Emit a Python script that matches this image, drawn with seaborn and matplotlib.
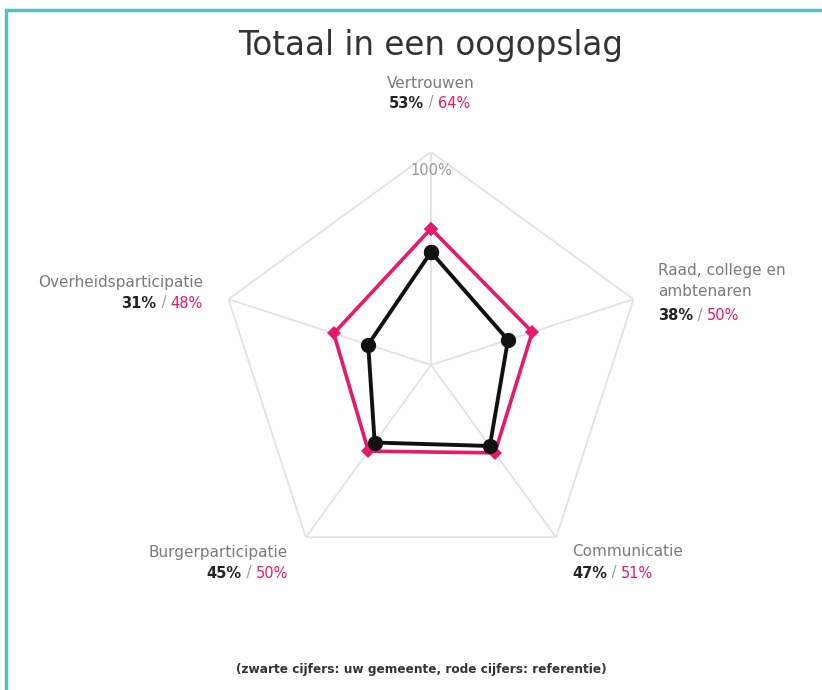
import matplotlib
matplotlib.use("Agg")
import matplotlib.pyplot as plt
import numpy as np
import seaborn as sns
from matplotlib.lines import Line2D

# data
categories = ["Vertrouwen", "Raad, college en\nambtenaren", "Communicatie",
              "Burgerparticipatie", "Overheidsparticipatie"]
gemeente = [53, 38, 47, 45, 31]
referentie = [64, 50, 51, 50, 48]

W, H = 822, 690
BLACK = "#111111"
PINK = "#e8186b"
GRID = "#e2e2e2"
LABEL = "#7a7a7a"
TEAL = "#5cbdb8"


def fx(x):
    return x / W


def fy(y):
    return 1 - y / H


sns.set_theme(style="white")
plt.rcParams["font.family"] = ["DejaVu Sans"]

fig = plt.figure(figsize=(W / 100, H / 100), dpi=100)
fig.patch.set_facecolor("white")

cx, cy, R = 431, 365, 213
ax = fig.add_axes([fx(cx - R), fy(cy + R), 2 * R / W, 2 * R / H], projection="polar")
ax.set_theta_offset(np.pi / 2)
ax.set_theta_direction(-1)
ax.grid(False)
ax.spines["polar"].set_visible(False)
ax.patch.set_alpha(0)

n = len(categories)
angles = np.linspace(0, 2 * np.pi, n, endpoint=False)
closed = np.append(angles, 2 * np.pi)

# pentagon frame and spokes
ax.plot(closed, [100] * (n + 1), color=GRID, lw=1.3, zorder=1)
for a in angles:
    ax.plot([a, a], [0, 100], color=GRID, lw=1.3, zorder=1)
ax.text(0, 91.5, "100%", ha="center", va="center", fontsize=10.5, color="#9a9a9a")

sns.lineplot(x=closed, y=referentie + referentie[:1], sort=False, color=PINK,
             lw=2.6, marker="D", markersize=7, markeredgewidth=0, ax=ax, zorder=3)
sns.lineplot(x=closed, y=gemeente + gemeente[:1], sort=False, color=BLACK,
             lw=2.8, marker="o", markersize=11, markeredgewidth=0, ax=ax, zorder=4)

ax.set_ylim(0, 100)
ax.set_xticks([])
ax.set_yticks([])
ax.set_xlabel("")
ax.set_ylabel("")

fig.text(fx(431), fy(45), "Totaal in een oogopslag", ha="center", va="center",
         fontsize=23.5, color="#333333")


def value_line(x, y, ha, own, ref):
    kw = dict(fontsize=10.5, va="center")
    chain = dict(fontsize=10.5, va="bottom", annotation_clip=False)
    own_kw = dict(color="#222222", fontweight="bold")
    if ha == "left":
        t = fig.text(fx(x), fy(y), f"{own}%", ha="left", **own_kw, **kw)
        s = ax.annotate(" / ", xy=(1, 0), xycoords=t, ha="left", color="#999999", **chain)
        ax.annotate(f"{ref}%", xy=(1, 0), xycoords=s, ha="left", color=PINK, **chain)
    elif ha == "right":
        t = fig.text(fx(x), fy(y), f"{ref}%", ha="right", color=PINK, **kw)
        s = ax.annotate(" / ", xy=(0, 0), xycoords=t, ha="right", color="#999999", **chain)
        ax.annotate(f"{own}%", xy=(0, 0), xycoords=s, ha="right", **own_kw, **chain)
    else:
        s = fig.text(fx(x), fy(y), " / ", ha="center", color="#999999", **kw)
        ax.annotate(f"{own}%", xy=(0, 0), xycoords=s, ha="right", **own_kw, **chain)
        ax.annotate(f"{ref}%", xy=(1, 0), xycoords=s, ha="left", color=PINK, **chain)


# label anchors (pixels): name position, value line position, alignment
anchors = [
    ((431, 83), (431, 103), "center"),
    ((658, 281), (658, 316), "left"),
    ((572, 552), (572, 573), "left"),
    ((288, 552), (288, 573), "right"),
    ((203, 283), (203, 303), "right"),
]

for name, own, ref, (npos, vpos, ha) in zip(categories, gemeente, referentie, anchors):
    fig.text(fx(npos[0]), fy(npos[1]), name, ha=ha, va="center", fontsize=11,
             color=LABEL, linespacing=1.5)
    value_line(vpos[0], vpos[1], ha, own, ref)

fig.text(fx(421), fy(670), "(zwarte cijfers: uw gemeente, rode cijfers: referentie)",
         ha="center", va="center", fontsize=8.75, fontweight="bold", color="#333333")

# teal frame (left and top edges visible)
fig.add_artist(Line2D([fx(6), fx(6)], [0, fy(10)], color=TEAL, lw=2.5))
fig.add_artist(Line2D([fx(6), 1], [fy(10), fy(10)], color=TEAL, lw=2.5))

fig.savefig("out.png", dpi=100)
